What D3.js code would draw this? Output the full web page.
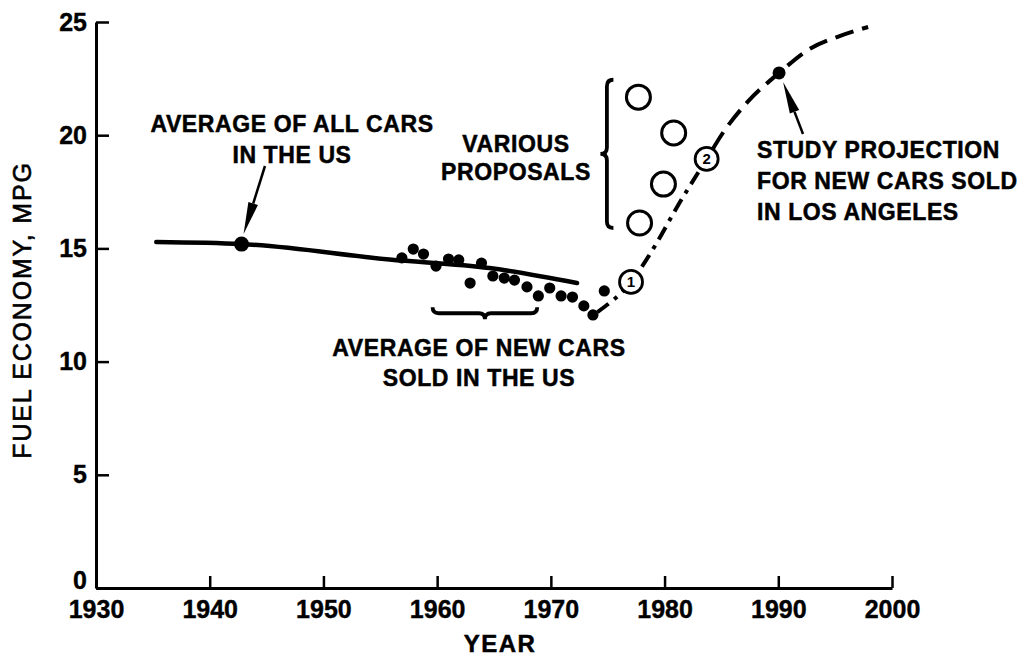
<!DOCTYPE html>
<html><head><meta charset="utf-8">
<script src="https://cdn.jsdelivr.net/npm/d3@7"></script>
<style>
html,body{margin:0;padding:0;background:#fff;}
text{font-family:"Liberation Sans",Arial,Helvetica,sans-serif;fill:#000;}
</style></head>
<body><svg id="chart" width="1018" height="660"></svg>
<script>
// ---------- data ----------
const xTicks = [1930, 1940, 1950, 1960, 1970, 1980, 1990, 2000];
const yTicks = [0, 5, 10, 15, 20, 25];

// average of all cars in the US (solid line)
const allCarsYears = [1935.3, 1942.8, 1955.8, 1964.6, 1972.3];
const allCarsMpg   = [15.28, 15.19, 14.51, 14.13, 13.47];

// average of new cars sold in the US (dots)
const newCarYears = [1956.9,1957.9,1958.8,1959.9,1961.0,1961.9,1962.9,1963.9,1964.9,1965.9,1966.8,1967.9,1968.9,1969.9,1970.9,1971.9,1972.9,1973.7,1974.7];
const newCarMpg   = [14.58,14.97,14.75,14.22,14.53,14.49,13.47,14.35,13.78,13.69,13.60,13.30,12.90,13.25,12.90,12.85,12.46,12.06,13.12];

// study projection (dashed curve)
const projYears = [1974.1,1977.05,1979.2,1981.1,1983.7,1985.3,1987.3,1990.07,1992.6,1995.4,1997.9];
const projMpg   = [12.19,13.52,15.15,16.83,18.95,20.23,21.47,22.75,23.76,24.38,24.78];

// various proposals (open circles)
const propYears = [1977.7, 1980.8, 1979.9, 1977.8];
const propMpg   = [21.68, 20.10, 17.84, 16.12];

// numbered markers on the projection
const markerYears  = [1977.05, 1983.7];
const markerMpg    = [13.52, 18.95];
const markerLabels = ["1", "2"];

// highlighted points
const allCarsPoint = [1942.8, 15.19];
const studyPoint   = [1990.07, 22.75];

// ---------- layout ----------
const svg = d3.select("#chart");
const x = d3.scaleLinear().domain([1930, 2000]).range([96, 892]);
const y = d3.scaleLinear().domain([0, 25]).range([588, 22]);

const defs = svg.append("defs");
defs.append("clipPath").attr("id","clipA").append("rect")
  .attr("x",0).attr("y",0).attr("width",x(markerYears[1])).attr("height",660);
defs.append("clipPath").attr("id","clipB").append("rect")
  .attr("x",x(markerYears[1])).attr("y",0).attr("width",1018).attr("height",660);

// ---------- axes ----------
const xAxis = d3.axisBottom(x).tickValues(xTicks).tickFormat(d3.format("d"))
  .tickSizeInner(-12).tickSizeOuter(0).tickPadding(15);
const gx = svg.append("g").attr("transform",`translate(0,${y(0)})`).call(xAxis);
gx.select(".domain").attr("stroke","#000").attr("stroke-width",3);
gx.selectAll(".tick line").attr("stroke","#000").attr("stroke-width",2.5);
gx.selectAll(".tick text").attr("font-size",25).attr("font-weight","bold")
  .attr("fill","#000").attr("dy","0.6em").attr("stroke","#000").attr("stroke-width",0.4);

const yAxis = d3.axisLeft(y).tickValues(yTicks)
  .tickSizeInner(-13).tickSizeOuter(0).tickPadding(9);
const gy = svg.append("g").attr("transform",`translate(${x(1930)},0)`).call(yAxis);
gy.select(".domain").attr("stroke","#000").attr("stroke-width",3);
gy.selectAll(".tick line").attr("stroke","#000").attr("stroke-width",2.5);
gy.selectAll(".tick text").attr("font-size",25).attr("font-weight","bold").attr("fill","#000")
  .attr("stroke","#000").attr("stroke-width",0.4);
gy.selectAll(".tick").filter(d => d === 0).select("text").attr("dy","0.03em");

// axis titles
svg.append("text").attr("x",500).attr("y",652).attr("text-anchor","middle")
  .attr("font-size",24).attr("font-weight","bold").attr("letter-spacing",1.5)
  .attr("stroke","#000").attr("stroke-width",0.5).text("YEAR");
svg.append("text").attr("transform","translate(31,310) rotate(-90)")
  .attr("text-anchor","middle").attr("font-size",25).attr("letter-spacing",1.8)
  .attr("stroke","#000").attr("stroke-width",0.6)
  .text("FUEL ECONOMY, MPG");

// ---------- all cars solid line ----------
const line = d3.line().x(d => x(d[0])).y(d => y(d[1])).curve(d3.curveMonotoneX);
svg.append("path").datum(d3.zip(allCarsYears, allCarsMpg))
  .attr("d", line).attr("fill","none").attr("stroke","#000")
  .attr("stroke-width",4.5).attr("stroke-linecap","round");
svg.append("circle").attr("cx",x(allCarsPoint[0])).attr("cy",y(allCarsPoint[1]))
  .attr("r",7.5).attr("fill","#000");

// ---------- new cars dots ----------
svg.append("g").selectAll("circle").data(d3.zip(newCarYears, newCarMpg)).join("circle")
  .attr("cx", d => x(d[0])).attr("cy", d => y(d[1])).attr("r",5.6).attr("fill","#000");

// ---------- projection ----------
const projData = d3.zip(projYears, projMpg);
svg.append("path").datum(projData).attr("d", line).attr("fill","none")
  .attr("stroke","#000").attr("stroke-width",4).attr("stroke-linecap","butt")
  .attr("stroke-dasharray","14,7,4,7").attr("clip-path","url(#clipA)");
svg.append("path").datum(projData).attr("d", line).attr("fill","none")
  .attr("stroke","#000").attr("stroke-width",4).attr("stroke-linecap","butt")
  .attr("stroke-dasharray","19,9").attr("stroke-dashoffset",-6).attr("clip-path","url(#clipB)");
svg.append("circle").attr("cx",x(studyPoint[0])).attr("cy",y(studyPoint[1]))
  .attr("r",6.5).attr("fill","#000");

// numbered markers
const mk = svg.append("g").selectAll("g").data(d3.zip(markerYears, markerMpg, markerLabels)).join("g")
  .attr("transform", d => `translate(${x(d[0])},${y(d[1])})`);
mk.append("circle").attr("r",11.5).attr("fill","#fff").attr("stroke","#000").attr("stroke-width",2.8);
mk.append("text").attr("text-anchor","middle").attr("dy","0.36em")
  .attr("font-size",15).attr("font-weight","bold").text(d => d[2]);

// proposals
svg.append("g").selectAll("circle").data(d3.zip(propYears, propMpg)).join("circle")
  .attr("cx", d => x(d[0])).attr("cy", d => y(d[1])).attr("r",12)
  .attr("fill","#fff").attr("stroke","#000").attr("stroke-width",3);

// ---------- braces ----------
function bracePath(len, d) {
  const q = d * 0.5, m = len / 2;
  return `M0,0 Q0,${q} ${q},${q} L${m - q},${q} Q${m},${q} ${m},${d} Q${m},${q} ${m + q},${q} L${len - q},${q} Q${len},${q} ${len},0`;
}
// proposals brace (vertical, pointing left)
const vb0 = [x(1975.5), y(22.45)], vb1 = y(15.9);
svg.append("path").attr("d", bracePath(vb1 - vb0[1], 13))
  .attr("transform", `translate(${vb0[0]},${vb0[1]}) rotate(90)`)
  .attr("fill","none").attr("stroke","#000").attr("stroke-width",3.8);
// new cars brace (horizontal, pointing down)
const hb0 = [x(1959.6), y(12.4)], hb1 = x(1968.8);
svg.append("path").attr("d", bracePath(hb1 - hb0[0], 12))
  .attr("transform", `translate(${hb0[0]},${hb0[1]})`)
  .attr("fill","none").attr("stroke","#000").attr("stroke-width",3.8);

// ---------- arrows ----------
function arrow(x1, y1, x2, y2) {
  const ang = Math.atan2(y2 - y1, x2 - x1);
  const hl = 32, hw = 5;
  const bx = x2 - hl * Math.cos(ang), by = y2 - hl * Math.sin(ang);
  svg.append("line").attr("x1",x1).attr("y1",y1).attr("x2",bx).attr("y2",by)
    .attr("stroke","#000").attr("stroke-width",2.5);
  const px = -Math.sin(ang) * hw, py = Math.cos(ang) * hw;
  svg.append("path").attr("d",`M${x2},${y2} L${bx + px},${by + py} L${bx - px},${by - py} Z`)
    .attr("fill","#000");
}
arrow(265, 166, x(allCarsPoint[0]) + 2, y(allCarsPoint[1]) - 10);
arrow(803, 134, x(studyPoint[0]) + 4, y(studyPoint[1]) + 9);

// ---------- labels ----------
function label(lines, xPos, yPos, anchor, lh) {
  const t = svg.append("text").attr("text-anchor", anchor).attr("font-size",23)
    .attr("font-weight","bold").attr("letter-spacing",0.6)
    .attr("stroke","#000").attr("stroke-width",0.5);
  lines.forEach((s, i) => t.append("tspan").attr("x", xPos).attr("y", yPos + i * lh).text(s));
}
label(["AVERAGE OF ALL CARS", "IN THE US"], 292, 132, "middle", 31);
label(["VARIOUS", "PROPOSALS"], 516, 152, "middle", 28);
label(["AVERAGE OF NEW CARS", "SOLD IN THE US"], 479, 356, "middle", 30);
label(["STUDY PROJECTION", "FOR NEW CARS SOLD", "IN LOS ANGELES"], 757, 158, "start", 31);
</script></body></html>
